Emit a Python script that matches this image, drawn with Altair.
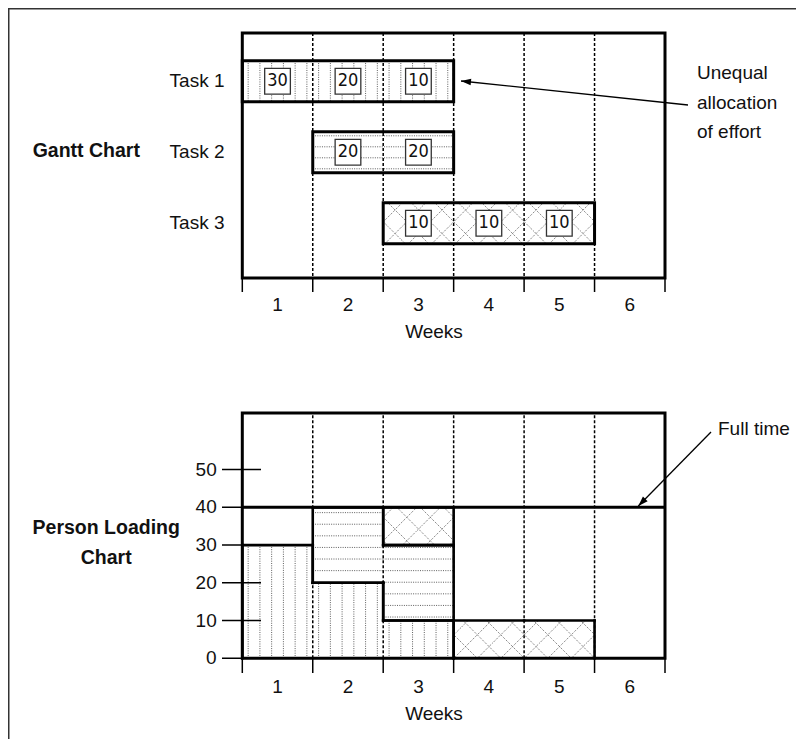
import math
import altair as alt
import pandas as pd

# ---------------- data ----------------
tasks = ["Task 1", "Task 2", "Task 3"]
task_first_week = [1, 2, 3]
task_weekly_effort = [[30, 20, 10], [20, 20], [10, 10, 10]]
task_pattern = ["vertical", "horizontal", "cross"]
week_labels = ["1", "2", "3", "4", "5", "6"]
load_tick_values = [0, 10, 20, 30, 40, 50]
full_time_level = 40

# ---------------- layout / style constants ----------------
W, H = 788, 731
N_WEEKS = len(week_labels)
X_RANGE = [234.3, 657.0]
G_DOMAIN = [0.32, 3.77]
G_RANGE = [25.0, 270.0]
L_DOMAIN = [0, 65]
L_RANGE = [650.3, 405.0]
BAR_HALF = 0.289
FONT = "Liberation Sans"
NUM_FONT = "Liberation Sans Narrow, DejaVu Sans Condensed, Liberation Sans"
FS = 19
PAT = dict(color="#5e5e5e", strokeWidth=1, strokeDash=[1, 1.3])
ARROW = "M0,0L1,-0.33L1,0.33Z"

PPX = (X_RANGE[1] - X_RANGE[0]) / N_WEEKS
G_PPY = (G_RANGE[1] - G_RANGE[0]) / (G_DOMAIN[1] - G_DOMAIN[0])
L_PPY = (L_RANGE[0] - L_RANGE[1]) / (L_DOMAIN[1] - L_DOMAIN[0])

xs = alt.Scale(domain=[0, N_WEEKS], range=X_RANGE, nice=False, zero=False)
gys = alt.Scale(domain=G_DOMAIN, range=G_RANGE, nice=False, zero=False)
lys = alt.Scale(domain=L_DOMAIN, range=L_RANGE, nice=False, zero=False)
one = pd.DataFrame({"a": [0]})


def pattern(kind, x0, x1, y0, y1, ppy, h_phase, h_step):
    segs = []
    if kind == "vertical":
        n = int(round((x1 - x0) * 6))
        for k in range(n):
            xv = x0 + (k + 0.5) / 6
            segs.append((xv, xv, y0, y1))
    elif kind == "horizontal":
        p0, p1 = y0 * ppy, y1 * ppy
        k = math.ceil((p0 - h_phase) / h_step)
        while h_phase + k * h_step < p1 - 1:
            p = h_phase + k * h_step
            if p > p0 + 1:
                segs.append((x0, x1, p / ppy, p / ppy))
            k += 1
    else:
        s = 23.5
        X0p, X1p = x0 * PPX, x1 * PPX
        Y0p, Y1p = y0 * ppy, y1 * ppy
        for sign in (1, -1):
            cands = [Y0p - sign * X0p, Y0p - sign * X1p, Y1p - sign * X0p, Y1p - sign * X1p]
            cmin, cmax = min(cands), max(cands)
            k = math.floor(cmin / s)
            while k * s <= cmax:
                c = k * s
                if sign == 1:
                    xa, xb = max(X0p, Y0p - c), min(X1p, Y1p - c)
                else:
                    xa, xb = max(X0p, c - Y1p), min(X1p, c - Y0p)
                if xb - xa > 0.5:
                    segs.append((xa / PPX, xb / PPX, (c + sign * xa) / ppy, (c + sign * xb) / ppy))
                k += 1
    return segs


def symdiff(A, B):
    if A is None and B is None:
        return []
    if A is None:
        return [B]
    if B is None:
        return [A]
    lo, hi = max(A[0], B[0]), min(A[1], B[1])
    if lo >= hi:
        return [A, B]
    out = []
    if min(A[0], B[0]) < lo:
        out.append((min(A[0], B[0]), lo))
    if hi < max(A[1], B[1]):
        out.append((hi, max(A[1], B[1])))
    return out


def segdf(segs):
    return pd.DataFrame(segs, columns=["x", "x2", "y", "y2"])


def seg_layer(df, yscale, **mk):
    return alt.Chart(df).mark_rule(**mk).encode(
        x=alt.X("x:Q", scale=xs, axis=None),
        x2="x2:Q",
        y=alt.Y("y:Q", scale=yscale, axis=None),
        y2="y2:Q",
    )


def text_value(txt, x, y, align="left", weight="normal", size=FS):
    return alt.Chart(one).mark_text(
        align=align, baseline="middle", font=FONT, fontSize=size,
        fontWeight=weight, color="#111"
    ).encode(x=alt.value(x), y=alt.value(y), text=alt.value(txt))


def arrow(x1, y1, x2, y2, ang):
    line = alt.Chart(one).mark_rule(color="black", strokeWidth=1.3).encode(
        x=alt.value(x1), y=alt.value(y1), x2=alt.value(x2), y2=alt.value(y2))
    head = alt.Chart(one).mark_point(
        shape=ARROW, size=400, filled=True, color="black", opacity=1, angle=ang
    ).encode(x=alt.value(x2), y=alt.value(y2))
    return [line, head]


# ---------------- Gantt panel ----------------
g_bars = pd.DataFrame([
    dict(task=t, row=i + 1, x=f - 1, x2=f - 1 + len(e),
         y=i + 1 - BAR_HALF, y2=i + 1 + BAR_HALF)
    for i, (t, f, e) in enumerate(zip(tasks, task_first_week, task_weekly_effort))
])
g_boxes = pd.DataFrame([
    dict(row=i + 1, x=f - 1 + j + 0.5, label=str(v))
    for i, (f, e) in enumerate(zip(task_first_week, task_weekly_effort))
    for j, v in enumerate(e)
])
g_pat = []
for i, r in g_bars.iterrows():
    g_pat += pattern(task_pattern[i], r.x, r.x2, r.y, r.y2, G_PPY, 2 * G_PPY + 5.5, 11.0)

bounds = list(range(N_WEEKS + 1))
g_div = segdf([(b, b, G_DOMAIN[0], G_DOMAIN[1]) for b in bounds[1:-1]])
g_frame = pd.DataFrame([dict(x=0, x2=N_WEEKS, y=G_DOMAIN[0], y2=G_DOMAIN[1])])
wk = pd.DataFrame({"x": [k + 0.5 for k in range(N_WEEKS)], "label": week_labels})
bd = pd.DataFrame({"x": bounds})

g_layers = [
    seg_layer(segdf(g_pat), gys, **PAT),
    seg_layer(g_div, gys, color="black", strokeWidth=1.5, strokeDash=[3, 2]),
    alt.Chart(g_bars).mark_rect(fillOpacity=0, stroke="black", strokeWidth=3).encode(
        x=alt.X("x:Q", scale=xs, axis=None), x2="x2:Q",
        y=alt.Y("y:Q", scale=gys, axis=None), y2="y2:Q"),
    alt.Chart(g_boxes).mark_square(size=660, fill="white", fillOpacity=1, stroke="#333",
                                   strokeWidth=1.3, opacity=1).encode(
        x=alt.X("x:Q", scale=xs, axis=None), y=alt.Y("row:Q", scale=gys, axis=None)),
    alt.Chart(g_boxes).mark_text(font=NUM_FONT, fontSize=18, baseline="middle", color="#111").encode(
        x=alt.X("x:Q", scale=xs, axis=None), y=alt.Y("row:Q", scale=gys, axis=None),
        text="label:N"),
    alt.Chart(g_frame).mark_rect(fillOpacity=0, stroke="black", strokeWidth=3).encode(
        x=alt.X("x:Q", scale=xs, axis=None), x2="x2:Q",
        y=alt.Y("y:Q", scale=gys, axis=None), y2="y2:Q"),
    alt.Chart(bd).mark_rule(color="black", strokeWidth=1.5).encode(
        x=alt.X("x:Q", scale=xs, axis=None), y=alt.value(270), y2=alt.value(284)),
    alt.Chart(wk).mark_text(font=FONT, fontSize=FS, baseline="middle", color="#111").encode(
        x=alt.X("x:Q", scale=xs, axis=None), y=alt.value(297), text="label:N"),
    text_value("Weeks", 426, 324, align="center"),
    alt.Chart(g_bars).mark_text(font=FONT, fontSize=FS, align="right", baseline="middle",
                                color="#111").encode(
        x=alt.value(216.5), y=alt.Y("row:Q", scale=gys, axis=None), text="task:N"),
    text_value("Gantt Chart", 24.7, 142.7, weight="bold", size=19.5),
    text_value("Unequal", 689, 65),
    text_value("allocation", 689, 95),
    text_value("of effort", 689, 124),
] + arrow(680, 97, 453, 73, 6)

# ---------------- Person loading panel ----------------
totals = {}
l_rows = []
for i, (t, f, e) in enumerate(zip(tasks, task_first_week, task_weekly_effort)):
    for j, v in enumerate(e):
        w = f - 1 + j
        b = totals.get(w, 0)
        l_rows.append(dict(task=t, ti=i, w=w, y=b, y2=b + v))
        totals[w] = b + v

l_pat = []
outline = []
for r in l_rows:
    l_pat += pattern(task_pattern[r["ti"]], r["w"], r["w"] + 1, r["y"], r["y2"],
                     L_PPY, 38.6 * L_PPY, 11.6)
    outline.append((r["w"], r["w"] + 1, r["y2"], r["y2"]))
    if r["y"] > 0:
        outline.append((r["w"], r["w"] + 1, r["y"], r["y"]))
for i in range(len(tasks)):
    iv = {r["w"]: (r["y"], r["y2"]) for r in l_rows if r["ti"] == i}
    for k in bounds:
        for (a, b) in symdiff(iv.get(k - 1), iv.get(k)):
            outline.append((k, k, a, b))

l_div = segdf([(b, b, L_DOMAIN[0], L_DOMAIN[1]) for b in bounds[1:-1]])
l_frame = pd.DataFrame([dict(x=0, x2=N_WEEKS, y=L_DOMAIN[0], y2=L_DOMAIN[1])])
ft = segdf([(0, N_WEEKS, full_time_level, full_time_level)])
yt = pd.DataFrame({"v": load_tick_values, "label": [str(v) for v in load_tick_values]})

l_layers = [
    seg_layer(segdf(l_pat), lys, **PAT),
    seg_layer(l_div, lys, color="black", strokeWidth=1.5, strokeDash=[3, 2]),
    seg_layer(segdf(outline), lys, color="black", strokeWidth=2.6, strokeCap="square"),
    alt.Chart(yt).mark_rule(color="black", strokeWidth=1.5).encode(
        y=alt.Y("v:Q", scale=lys, axis=None), x=alt.value(214), x2=alt.value(253)),
    alt.Chart(yt).mark_text(font=FONT, fontSize=FS, align="right", baseline="middle",
                            color="#111").encode(
        y=alt.Y("v:Q", scale=lys, axis=None), x=alt.value(208.7), text="label:N"),
    alt.Chart(l_frame).mark_rect(fillOpacity=0, stroke="black", strokeWidth=3).encode(
        x=alt.X("x:Q", scale=xs, axis=None), x2="x2:Q",
        y=alt.Y("y:Q", scale=lys, axis=None), y2="y2:Q"),
    seg_layer(ft, lys, color="black", strokeWidth=3),
    alt.Chart(bd).mark_rule(color="black", strokeWidth=1.5).encode(
        x=alt.X("x:Q", scale=xs, axis=None), y=alt.value(650.3), y2=alt.value(665)),
    alt.Chart(wk).mark_text(font=FONT, fontSize=FS, baseline="middle", color="#111").encode(
        x=alt.X("x:Q", scale=xs, axis=None), y=alt.value(679), text="label:N"),
    text_value("Weeks", 426, 706, align="center"),
    text_value("Person Loading", 98.2, 519.7, align="center", weight="bold", size=19.5),
    text_value("Chart", 98.2, 550, align="center", weight="bold", size=19.5),
    text_value("Full time", 710, 421),
    alt.Chart(one).mark_rule(color="#333", strokeWidth=1.5).encode(
        x=alt.value(0.75), y=alt.value(0), y2=alt.value(H)),
    alt.Chart(one).mark_rule(color="#333", strokeWidth=1.5).encode(
        y=alt.value(0.75), x=alt.value(0), x2=alt.value(W)),
] + arrow(703, 424, 630.3, 498, 314.4)

gantt = alt.layer(*g_layers)
loading = alt.layer(*l_layers)

chart = (
    alt.layer(gantt, loading)
    .resolve_scale(y="independent")
    .properties(width=W, height=H, autosize=alt.AutoSizeParams(type="none"), padding=0,
                background="white")
    .configure_view(stroke=None)
)

chart.save("out.html", embed_options={"renderer": "svg", "actions": False})
